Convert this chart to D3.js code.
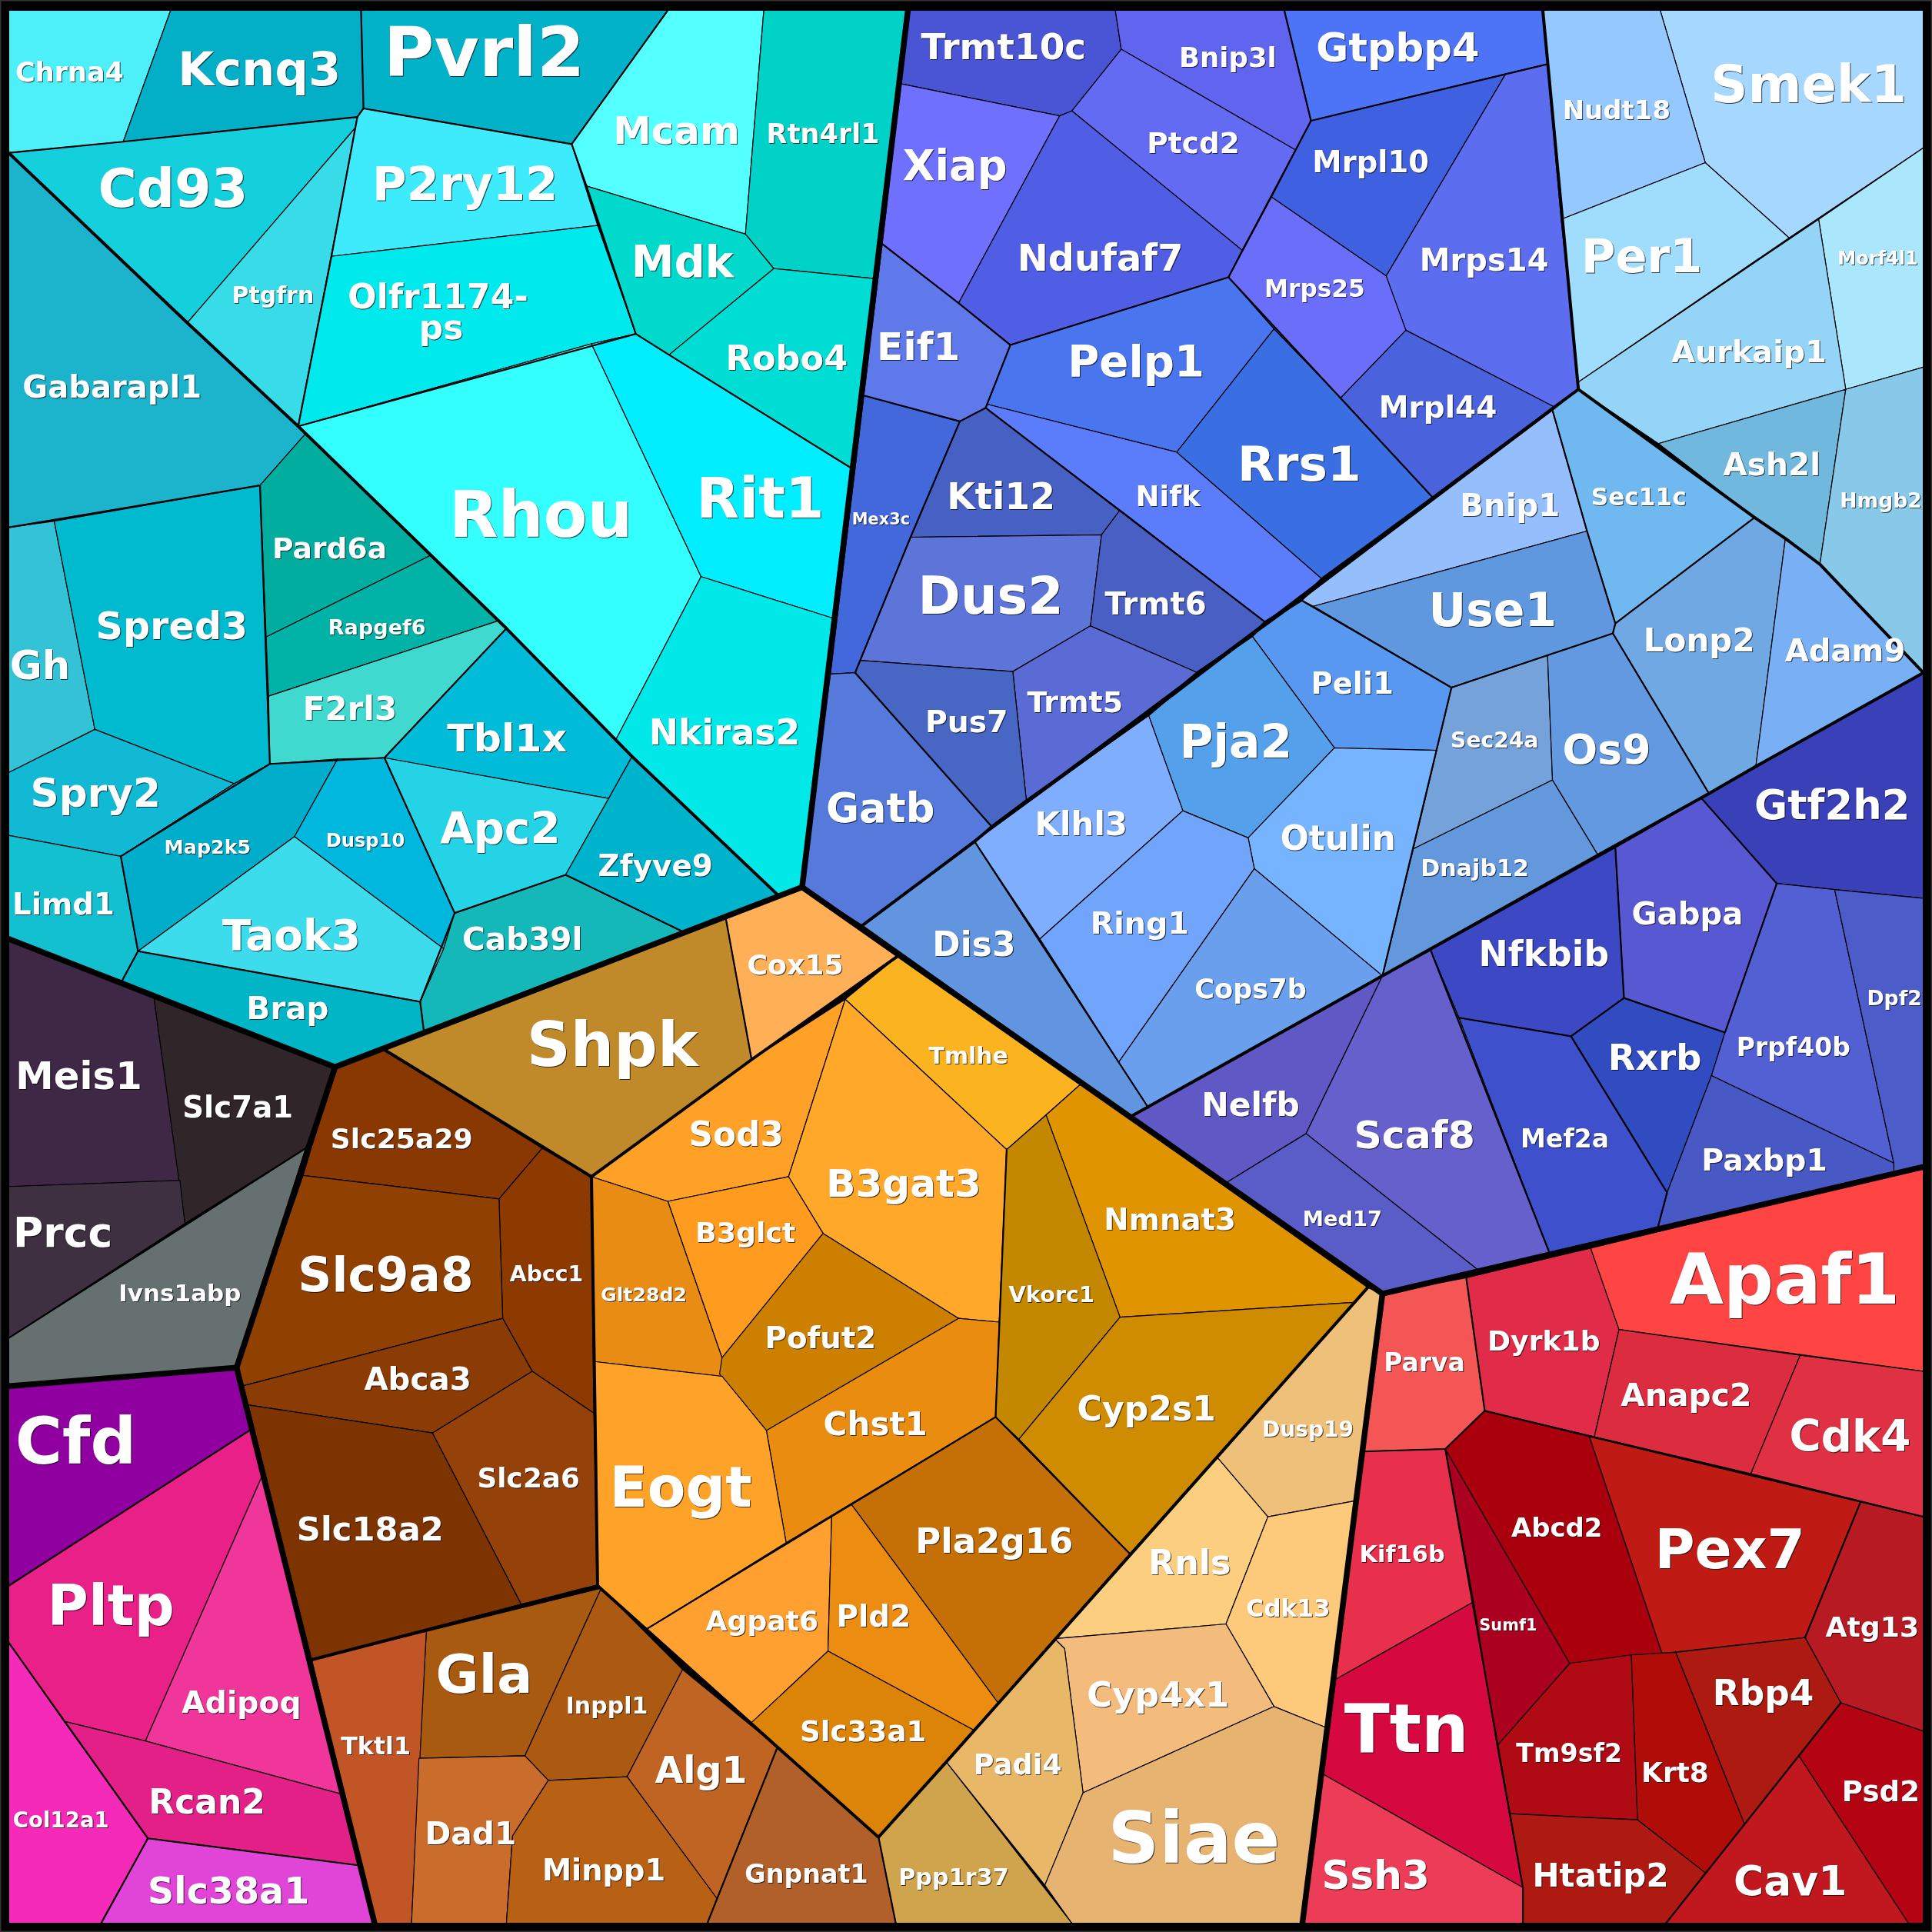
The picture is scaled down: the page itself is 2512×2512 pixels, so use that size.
<!DOCTYPE html>
<html><head><meta charset="utf-8">
<script src="https://cdnjs.cloudflare.com/ajax/libs/d3/7.8.5/d3.min.js"></script>
<style>html,body{margin:0;padding:0;background:#000}svg{display:block}</style></head>
<body><svg id="c" width="2512" height="2512"></svg>
<script>
// Each row: gene, fill, label left, label right, label baseline, polygon vertices (x y ...) in picture units.
const cyanTop=[
["Chrna4","#4df0f8",13,100,66,[7,7,139,7,100,115,7,124]],
["Kcnq3","#03afc7",146,275,69,[139,7,293,7,295,88,290,95,100,115]],
["Pvrl2","#02b2c8",314,472,62,[293,7,543,7,464,117,295,88]],
["Cd93","#14d0dd",81,200,168,[7,124,100,115,290,95,289,103,152,262]],
["Ptgfrn","#38dce8",189,254,246,[289,103,242,346,152,262]],
["P2ry12","#3debfc",304,451,162,[295,88,464,117,485,183,269,208,290,95]],
["Olfr1174-\nps","#00eaee",283,428,250,[269,208,485,183,516,271,480,279,242,346]],
["Mcam","#54ffff",499,599,117,[543,7,620,7,605,190,476,151,464,117]],
["Rtn4rl1","#00d2c8",623,713,116,[620,7,737,7,709,226,628,218,605,190]],
["Mdk","#00d9cc",513,595,225,[476,151,605,190,628,218,543,288,516,271]],
["Robo4","#00ddd4",590,687,300,[628,218,709,226,691,380,543,288]],
["Rhou","#33ffff",367,511,436,[242,346,480,279,569,468,500,600]],
["Rit1","#00eeff",567,667,420,[480,279,516,271,543,288,691,380,677,502,569,468]],
["Nkiras2","#00e8e8",528,648,604,[569,468,677,502,651,720,631,726,513,614,500,600]]];
const cyanLow=[
["Gabarapl1","#1cb3cc",19,163,323,[7,124,248,352,211,394,7,428]],
["Gh","#33c2d6",9,56,551,[7,428,44,423,77,592,7,627]],
["Spred3","#00bbd0",79,200,519,[44,423,211,394,219,620,190,636,77,592]],
["Spry2","#12b9d4",26,129,655,[7,627,77,592,190,636,98,695,7,678]],
["Limd1","#12c0d0",11,92,742,[7,678,98,695,112,772,99,796,7,762]],
["Pard6a","#00ad9f",222,313,453,[211,394,248,352,349,451,216,517]],
["Rapgef6","#00b3a6",267,345,515,[216,517,349,451,404,504,218,565]],
["F2rl3","#40d9d0",247,321,584,[218,565,404,504,411,510,312,615,219,620]],
["Tbl1x","#00bcd8",363,460,610,[411,510,513,614,494,648,312,615]],
["Map2k5","#00aecb",134,203,693,[98,695,190,636,219,620,274,616,239,679,112,772]],
["Dusp10","#00b8de",265,328,687,[274,616,312,615,369,741,360,770,239,679]],
["Apc2","#24d4e6",358,454,685,[312,615,494,648,459,710,369,741]],
["Zfyve9","#00b3cc",486,578,711,[513,614,631,726,554,756,459,710,494,648]],
["Cab39l","#14b8b8",376,472,771,[369,741,459,710,554,756,344,837,341,813,360,770]],
["Taok3","#3cdcec",181,292,771,[239,679,360,770,341,813,112,772]],
["Brap","#00b5c5",201,266,827,[112,772,341,813,344,837,272,866,99,796]]];
const blueA=[
["Trmt10c","#4a55d6",748,881,48,[737,7,905,7,910,40,870,90,860,94,731,68]],
["Bnip3l","#6064ee",958,1035,54,[905,7,1042,7,1064,98,1052,122,910,40]],
["Gtpbp4","#4d74f6",1069,1200,50,[1042,7,1252,7,1256,52,1064,98]],
["Xiap","#7070ff",733,817,146,[731,68,860,94,778,246,716,198]],
["Ptcd2","#636bf2",932,1005,124,[910,40,1052,122,1008,203,870,90]],
["Ndufaf7","#4f5ee4",827,959,220,[860,94,870,90,1008,203,997,225,820,280,778,246]],
["Mrpl10","#3f60e0",1066,1159,140,[1064,98,1222,60,1125,224,1032,160]],
["Mrps14","#5d6df0",1153,1256,220,[1222,60,1256,52,1281,316,1261,330,1141,268,1125,224]],
["Mrps25","#6a6ef8",1027,1107,241,[1032,160,1125,224,1141,268,1088,323,1034,267,997,225]],
["Eif1","#5f78ea",713,778,292,[716,198,778,246,820,280,800,331,779,342,701,321]],
["Pelp1","#4975ee",868,976,306,[820,280,997,225,1034,267,955,367,801,328]],
["Mrpl44","#4a62dc",1120,1214,339,[1141,268,1261,330,1163,404,1088,323]],
["Rrs1","#3a6fe4",1006,1103,390,[1034,267,1088,323,1163,404,1073,470,955,367]],
["Mex3c","#4268dc",692,738,426,[701,321,779,342,739,436,694,546,674,547]],
["Kti12","#4660c4",770,855,413,[800,331,909,414,894,434,739,436,779,342]],
["Nifk","#5b7cfb",922,974,411,[801,328,955,367,1073,470,1027,505,909,414,800,331]],
["Dus2","#5d75d8",747,861,498,[739,436,894,434,885,508,822,545,698,536]],
["Trmt6","#4a5fc4",897,979,499,[909,414,1027,505,972,546,885,508,894,434]],
["Trmt5","#5a6bd6",834,911,578,[885,508,972,546,833,650,822,545]],
["Pus7","#4866c4",752,817,594,[698,536,822,545,833,650,805,671,694,546]],
["Gatb","#557adc",671,758,667,[674,547,694,546,805,671,700,751,651,720]]];
const blueB=[
["Bnip1","#94befc",1186,1265,419,[1260,333,1288,431,1066,492,1056,487]],
["Sec11c","#70b8f0",1292,1368,410,[1260,333,1281,316,1424,420,1311,506,1288,431]],
["Use1","#6098e0",1161,1262,508,[1066,492,1288,431,1311,506,1309,514,1178,558]],
["Peli1","#5898f0",1065,1130,563,[1056,487,1178,558,1166,609,1083,607,1016,516]],
["Pja2","#55a0ea",959,1047,615,[1016,516,1083,607,1013,680,960,658,932,580]],
["Otulin","#77b4ff",1040,1132,690,[1083,607,1166,609,1147,689,1122,792,1018,705,1013,680]],
["Sec24a","#75a2da",1178,1248,607,[1178,558,1256,532,1260,633,1147,689,1166,609]],
["Dnajb12","#6498dc",1154,1240,711,[1147,689,1260,633,1297,694,1122,792]],
["Os9","#6299e0",1269,1339,620,[1256,532,1309,514,1387,644,1297,694,1260,633]],
["Lonp2","#70a8e4",1335,1423,529,[1311,506,1424,420,1449,437,1425,622,1387,644,1309,514]],
["Adam9","#78aff5",1449,1546,537,[1449,437,1477,458,1561,546,1425,622]],
["Klhl3","#80aeff",841,914,678,[932,580,960,658,844,762,791,683]],
["Ring1","#70a5fb",886,964,758,[960,658,1013,680,1018,705,908,862,844,762]],
["Cops7b","#6a9fee",970,1060,810,[1018,705,1122,792,932,899,908,862]],
["Dis3","#6295e0",758,823,776,[700,751,791,683,932,899,918,906]]];
const blueC=[
["Smek1","#a6d8ff",1390,1546,83,[1347,7,1561,7,1561,120,1452,193,1384,132]],
["Nudt18","#94c8ff",1269,1355,97,[1252,7,1347,7,1384,132,1267,178]],
["Per1","#a0dcfc",1285,1380,221,[1267,178,1384,132,1452,193,1281,310]],
["Morf4l1","#aae6fc",1492,1556,215,[1476,178,1561,120,1561,298,1498,316]],
["Aurkaip1","#94d4f6",1357,1482,294,[1281,310,1476,178,1498,316,1346,360,1281,316]],
["Ash2l","#70b8de",1399,1477,386,[1346,360,1498,316,1477,458,1424,420]],
["Hmgb2","#88c8e8",1494,1559,412,[1498,316,1561,298,1561,546,1477,458]]];
const blueD=[
["Gtf2h2","#3a40b8",1425,1549,665,[1561,546,1561,729,1489,722,1442,717,1381,648]],
["Gabpa","#5858d2",1325,1414,750,[1311,688,1381,648,1442,717,1400,838,1318,810]],
["Nfkbib","#3c48c4",1201,1305,784,[1161,771,1311,688,1318,810,1275,841,1184,826]],
["Rxrb","#304cc0",1306,1380,868,[1275,841,1318,810,1400,838,1389,873,1353,968]],
["Mef2a","#3e50cc",1235,1305,931,[1184,826,1275,841,1353,968,1345,998,1258,1018]],
["Prpf40b","#5260d4",1410,1501,857,[1442,717,1489,722,1537,944,1389,873,1400,838]],
["Dpf2","#4c5cc8",1516,1559,816,[1489,722,1561,729,1561,947,1537,953,1537,944]],
["Paxbp1","#4858c4",1382,1482,950,[1389,873,1537,944,1537,953,1345,998,1353,968]],
["Nelfb","#6058c4",976,1054,906,[918,906,1122,792,1060,920,995,960]],
["Scaf8","#6660cc",1100,1196,932,[1122,792,1161,771,1184,826,1258,1018,1200,1031,1060,920]],
["Med17","#5a5cc8",1058,1121,995,[995,960,1060,920,1200,1031,1122,1050]]];
const orangeA=[
["Cox15","#ffb056",607,684,791,[589,745,651,720,730,775,610,860]],
["Shpk","#c08a2a",428,566,865,[312,852,589,745,610,860,480,955]],
["Tmlhe","#fbb41f",754,818,863,[730,775,877,880,817,933,686,811]],
["Sod3","#ffa126",560,635,930,[610,860,686,811,640,955,542,975,480,955]],
["B3gat3","#ffa82a",672,795,971,[686,811,817,933,811,1073,778,1070,668,1001,640,955]],
["B3glct","#ff9c1f",565,645,1008,[542,975,640,955,668,1001,586,1102]],
["Glt28d2","#e88c14",488,557,1056,[480,955,542,975,586,1102,586,1117,482,1105]],
["Pofut2","#cd8000",622,710,1094,[668,1001,778,1070,622,1161,584,1115,586,1102]],
["Nmnat3","#e09500",897,1002,998,[849,905,877,880,1110,1045,1099,1057,909,1069]],
["Vkorc1","#c48800",819,888,1057,[817,933,849,905,909,1069,827,1168,808,1150,811,1073]],
["Chst1","#ea8c10",669,752,1165,[778,1070,811,1073,808,1150,638,1252,622,1161]],
["Cyp2s1","#d08c00",875,986,1153,[909,1069,1099,1057,917,1261,827,1168]],
["Eogt","#ffa228",496,609,1223,[482,1105,586,1117,622,1161,638,1252,525,1322,485,1287]],
["Pla2g16","#c47006",744,870,1260,[808,1150,917,1261,810,1382,691,1221]],
["Agpat6","#ffa030",573,664,1323,[525,1322,675,1230,672,1340,610,1398]],
["Pld2","#ec8c10",680,738,1320,[675,1230,691,1221,810,1382,790,1404,672,1340]],
["Slc33a1","#dc8408",650,751,1413,[672,1340,790,1404,713,1491,610,1398]]];
const sandCells=[
["Dusp19","#eec07a",1025,1098,1166,[1110,1045,1122,1050,1106,1178,1100,1218,1029,1231,988,1183]],
["Rnls","#fbce80",933,998,1278,[917,1261,988,1183,1029,1231,995,1318,856,1330]],
["Cdk13","#fdc97a",1012,1079,1312,[1029,1231,1100,1218,1076,1402,1034,1385,995,1318]],
["Cyp4x1","#f4bc7c",883,997,1385,[856,1330,995,1318,1034,1385,879,1455,864,1338]],
["Padi4","#e8b868",791,861,1440,[856,1330,864,1338,879,1455,848,1530,768,1430]],
["Siae","#e6b470",901,1037,1512,[879,1455,1034,1385,1076,1402,1057,1561,870,1561,848,1530]],
["Ppp1r37","#d0a44c",730,818,1530,[768,1430,870,1561,727,1561,713,1491]]];
const brownCells=[
["Slc25a29","#883800",269,383,932,[272,866,312,852,440,932,405,973,246,954]],
["Abcc1","#8c3a00",414,473,1040,[405,973,440,932,480,955,482,1147,432,1113,408,1070]],
["Slc9a8","#904000",243,383,1048,[246,954,405,973,408,1070,196,1125,192,1110]],
["Abca3","#8a3c04",296,382,1128,[196,1125,408,1070,432,1113,351,1163,200,1140]],
["Slc2a6","#94420a",388,470,1207,[351,1163,432,1113,482,1147,485,1287,423,1302]],
["Slc18a2","#7e3400",242,359,1250,[200,1140,351,1163,423,1302,253,1347]],
["Gla","#a85a10",355,431,1374,[346,1324,488,1289,426,1425,340,1427]],
["Inppl1","#ac5a12",460,525,1391,[488,1289,554,1355,509,1442,445,1445,426,1425]],
["Tktl1","#c25526",277,333,1424,[253,1347,346,1324,334,1561,304,1561]],
["Alg1","#c06424",532,606,1447,[554,1355,631,1418,582,1541,509,1442]],
["Dad1","#c96c2c",346,418,1497,[340,1427,426,1425,445,1445,416,1490,411,1561,334,1561]],
["Minpp1","#b86014",441,539,1526,[445,1445,509,1442,582,1541,574,1561,411,1561,416,1490]],
["Gnpnat1","#b06028",605,704,1528,[631,1418,713,1491,727,1561,574,1561,582,1541]]];
const darkCells=[
["Meis1","#3e2845",14,114,884,[7,762,125,810,146,958,7,963]],
["Slc7a1","#302528",149,237,907,[125,810,272,866,248,932,150,993]],
["Prcc","#3e3040",12,90,1012,[7,963,146,958,150,993,7,1086]],
["Ivns1abp","#667070",97,195,1056,[7,1086,248,932,192,1110,7,1125]]];
const magentaCells=[
["Cfd","#9000a0",14,109,1188,[7,1125,192,1110,204,1160,7,1287]],
["Pltp","#e82088",40,140,1319,[7,1287,204,1160,214,1195,118,1413,52,1397,7,1333]],
["Adipoq","#f0369a",148,244,1390,[214,1195,277,1456,118,1413]],
["Rcan2","#e22088",122,214,1472,[52,1397,118,1413,277,1456,292,1514,120,1492]],
["Col12a1","#f52ab8",11,88,1483,[7,1333,52,1397,120,1492,82,1561,7,1561]],
["Slc38a1","#e045d8",121,250,1545,[120,1492,292,1514,304,1561,82,1561]]];
const redCells=[
["Parva","#f45555",1124,1188,1113,[1122,1050,1190,1037,1205,1145,1173,1176,1106,1178]],
["Dyrk1b","#e02c48",1208,1298,1096,[1190,1037,1291,1013,1314,1079,1294,1166,1205,1145]],
["Apaf1","#ff4444",1356,1541,1058,[1291,1013,1561,947,1561,1113,1314,1079]],
["Anapc2","#dc2c40",1316,1421,1141,[1314,1079,1461,1100,1421,1196,1294,1166]],
["Cdk4","#e03044",1453,1550,1178,[1461,1100,1561,1113,1561,1231,1421,1196]],
["Kif16b","#e8304c",1104,1172,1268,[1106,1178,1173,1176,1196,1300,1084,1363]],
["Ttn","#d60840",1092,1191,1422,[1084,1363,1196,1300,1236,1532,1074,1440]],
["Ssh3","#ec3c58",1074,1159,1533,[1074,1440,1236,1532,1236,1561,1057,1561]],
["Sumf1","#ac0020",1201,1247,1323,[1173,1176,1274,1350,1215,1417,1196,1300]],
["Abcd2","#aa000e",1227,1300,1247,[1173,1176,1205,1145,1290,1166,1349,1342,1274,1350]],
["Pex7","#c01a14",1345,1463,1273,[1290,1166,1510,1219,1465,1329,1349,1342]],
["Atg13","#b81a24",1482,1557,1328,[1510,1219,1561,1231,1561,1405,1494,1382,1465,1329]],
["Rbp4","#ac1a12",1391,1471,1384,[1360,1341,1465,1329,1494,1382,1416,1481]],
["Tm9sf2","#b00a14",1231,1316,1430,[1215,1417,1274,1350,1324,1343,1329,1477,1225,1472]],
["Krt8","#b00c08",1333,1386,1446,[1324,1343,1360,1341,1416,1481,1384,1520,1329,1477]],
["Htatip2","#ae1a12",1245,1353,1531,[1225,1472,1329,1477,1384,1520,1352,1561,1236,1561,1236,1532]],
["Cav1","#c0181e",1408,1498,1538,[1460,1425,1549,1561,1352,1561]],
["Psd2","#b40414",1496,1557,1462,[1494,1382,1561,1405,1561,1561,1549,1561,1460,1425]]];
// Group boundaries.
const midBorders=[
[7,124,100,115,290,95,295,88,293,7],[295,88,464,117,543,7],[290,95,269,208,242,346],[464,117,476,151,516,271,543,288,691,380],[242,346,516,271],
[7,428,211,394,219,620,312,615,411,510],[98,695,219,620],[98,695,112,772,99,796],[112,772,341,813],[312,615,369,741,341,813,344,837],[369,741,459,710,554,756],
[1042,7,1064,98,1256,52],[1064,98,997,225,820,280,800,331,779,342,701,321],[820,280,778,246,716,198],[800,331,1027,505],[779,342,739,436,694,546,805,671],[997,225,1163,404],
[1056,487,1178,558,1122,792],[1178,558,1309,514,1387,644],[1309,514,1311,506,1424,420],[1260,333,1288,431,1311,506],[791,683,932,899],[1122,792,1161,771,1258,1018],[1345,998,1353,968,1275,841,1184,826],[1275,841,1318,810,1311,688],[1318,810,1400,838,1442,717,1381,648],
[589,745,610,860],[817,933,808,1150,691,1221,525,1322],[808,1150,917,1261],
[631,1418,574,1561],[713,1491,727,1561],
[248,932,7,1086],[204,1160,7,1287],[7,1333,120,1492,82,1561],[120,1492,292,1514],
[1106,1178,1173,1176,1205,1145,1561,1231],[1190,1037,1205,1145],[1173,1176,1236,1532,1236,1561],[1494,1382,1352,1561],[1465,1329,1510,1219]];
const heavyBorders=[
[7,124,152,262,242,346,411,510,513,614,631,726],
[1252,7,1281,316,1424,420,1449,437,1477,458,1561,546],
[1281,316,1163,404,1073,470,1056,487,1027,505,1016,516,972,546,932,580,833,650,805,671,791,683,700,751],
[1561,546,1425,622,1387,644,1297,694,1122,792,918,906],
[312,852,480,955,610,860,730,775],
[480,955,485,1287,631,1418,713,1491,768,1430,1110,1045],
[253,1347,485,1287]];
const topBorders=[
[737,7,651,720,1122,1050,1561,947],[1122,1050,1057,1561],[7,762,272,866,651,720],[272,866,192,1110,304,1561],[192,1110,7,1125]];

const allCells=[cyanTop,cyanLow,blueA,blueB,blueC,blueD,orangeA,sandCells,brownCells,darkCells,magentaCells,redCells].flat();
const x=d3.scaleLinear().domain([0,1568]).range([0,2512]);
const y=d3.scaleLinear().domain([0,1568]).range([0,2512]);
const pairs=a=>d3.range(0,a.length,2).map(i=>[a[i],a[i+1]]);
const line=d3.line().x(d=>x(d[0])).y(d=>y(d[1]));
const poly=d3.line().x(d=>x(d[0])).y(d=>y(d[1])).curve(d3.curveLinearClosed);
const svg=d3.select("#c");
svg.append("rect").attr("width",2512).attr("height",2512).attr("fill","#000");
const defs=svg.append("defs");
defs.append("clipPath").attr("id","inner").append("rect").attr("x",12).attr("y",14).attr("width",2488).attr("height",2486);
const plot=svg.append("g").attr("clip-path","url(#inner)");
plot.append("g").selectAll("path").data(allCells).join("path")
 .attr("d",d=>poly(pairs(d[5]))).attr("fill",d=>d[1]).attr("stroke","#000").attr("stroke-width",1.2).attr("stroke-linejoin","round");
function borders(list,w){
 plot.append("g").selectAll("path").data(list).join("path")
  .attr("d",d=>line(pairs(d))).attr("fill","none").attr("stroke","#000").attr("stroke-width",w).attr("stroke-linejoin","round").attr("stroke-linecap","round");
}
borders(midBorders,2.2);
borders(heavyBorders,4);
borders(topBorders,7.5);
svg.append("rect").attr("x",.75).attr("y",.75).attr("width",2510.5).attr("height",2510.5).attr("fill","none").attr("stroke","#333").attr("stroke-width",1.5);

const ctx=document.createElement("canvas").getContext("2d");
ctx.font='bold 100px "DejaVu Sans"';
const labels=svg.append("g").attr("font-family",'"DejaVu Sans"').attr("font-weight","bold").attr("fill","#fff")
 .style("filter","drop-shadow(1px 1px 0.5px rgba(0,0,0,0.7))");
allCells.forEach(d=>{
  const parts=d[0].split("\n");
  const m=ctx.measureText(parts[0]);
  const ink=m.actualBoundingBoxLeft+m.actualBoundingBoxRight;
  const size=100*(x(d[3])-x(d[2]))/(0.55*ink+0.45*m.width);
  const t=labels.append("text").attr("font-size",size.toFixed(2)).attr("text-anchor","middle");
  const cx=(x(d[2])+x(d[3]))/2;
  parts.forEach((p,i)=>t.append("tspan").attr("x",cx+(i?4:0)).attr("y",y(d[4])+i*size*0.93).text(p));
});
</script></body></html>
